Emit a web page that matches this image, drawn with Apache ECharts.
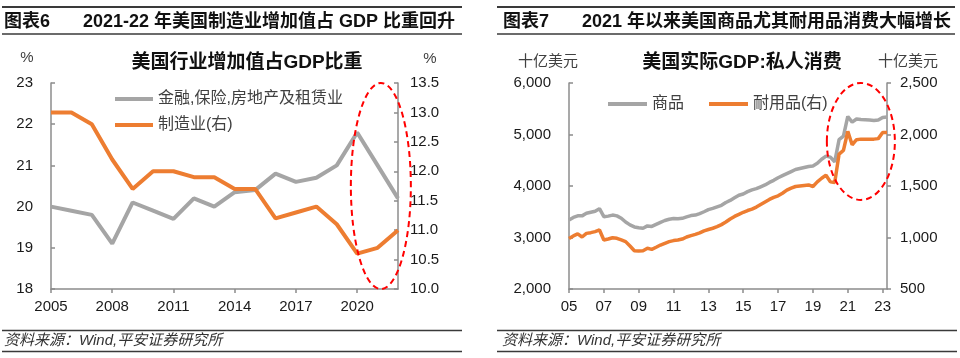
<!DOCTYPE html>
<html><head><meta charset="utf-8">
<script src="https://cdn.jsdelivr.net/npm/echarts@6/dist/echarts.min.js"></script>
<style>html,body{margin:0;padding:0;background:#fff}#c{width:960px;height:358px}</style>
</head><body><div id="c"></div>
<script>
// ---------- Data: left chart (share of GDP, %) ----------
const years = ['2005','2006','2007','2008','2009','2010','2011','2012','2013','2014','2015','2016','2017','2018','2019','2020','2021','2022'];
const financeShare = [20.0,19.9,19.8,19.1,20.1,19.9,19.7,20.2,20.0,20.35,20.4,20.8,20.6,20.7,21.0,21.8,21.0,20.2];
const manufShare = [13.0,13.0,12.8,12.2,11.7,12.0,12.0,11.9,11.9,11.7,11.7,11.2,11.3,11.4,11.1,10.6,10.7,11.0];

// ---------- Data: right chart (real PCE, billion USD) ----------
const qYears = ['2005','2006','2007','2008','2009','2010','2011','2012','2013','2014','2015','2016','2017','2018','2019','2020','2021','2022','2023'];
const lastQuarter = 'Q2';
const goods = [
 3340,3390,3420,3420, 3470,3490,3510,3560,
 3405,3415,3435,3420, 3375,3300,3245,3205,
 3190,3180,3225,3215, 3255,3295,3330,3355,
 3370,3362,3372,3400, 3425,3435,3465,3500,
 3540,3565,3595,3625, 3680,3720,3770,3820,
 3845,3890,3925,3950, 3985,4020,4070,4110,
 4160,4200,4240,4280, 4320,4340,4360,4380,
 4390,4440,4520,4580, 4560,4470,4900,4970,
 5350,5240,5300,5290, 5285,5280,5270,5280,
 5330,5340];
const durables = [
 990,1015,1035,1005, 1040,1047,1057,1073,
 976,985,998,992, 976,960,917,872,
 869,872,895,885, 905,927,944,960,
 970,975,985,1005, 1018,1030,1045,1065,
 1078,1090,1105,1125, 1150,1180,1205,1225,
 1245,1262,1275,1295, 1320,1345,1370,1390,
 1405,1430,1460,1480, 1495,1500,1505,1510,
 1495,1540,1575,1605, 1540,1535,1810,1845,
 2030,1900,1950,1955, 1955,1955,1955,1960,
 2020,2020];

const quarters = [];
qYears.forEach(y => ['Q1','Q2','Q3','Q4'].forEach(q => {
  if (y === '2023' && q > lastQuarter) return;
  quarters.push(y + q);
}));

// ---------- Text ----------
const header6 = ['图表6', '2021-22 年美国制造业增加值占 GDP 比重回升'];
const header7 = ['图表7', '2021 年以来美国商品尤其耐用品消费大幅增长'];
const title6 = '美国行业增加值占GDP比重';
const title7 = '美国实际GDP:私人消费';
const sourceText = '资料来源：Wind,平安证券研究所';
const nameFin = '金融,保险,房地产及租赁业', nameMan = '制造业(右)', nameGoods = '商品', nameDur = '耐用品(右)';

const FONT = '"Liberation Sans", "Noto Sans CJK SC", sans-serif';
const GRAY = '#A5A5A5', ORANGE = '#ED7D31', AXIS = '#8C8C8C', TXT = '#1a1a1a';
const fmtComma = v => String(v).replace(/\B(?=(\d{3})+(?!\d))/g, ',');

function txt(x, y, s, o) {
  return Object.assign({ type: 'text', x, y, silent: true, style: Object.assign({
    text: s, font: '15px ' + FONT, fill: TXT, textVerticalAlign: 'middle', verticalAlign: 'middle'
  }, o || {}) });
}
function hline(x1, x2, y, w) {
  return { type: 'line', silent: true, shape: { x1, y1: y, x2, y2: y }, style: { stroke: '#3a3a3a', lineWidth: w } };
}

const axisCommon = {
  axisLine: { show: true, lineStyle: { color: AXIS, width: 1.5 } },
  splitLine: { show: false },
};
const chart = echarts.init(document.getElementById('c'), null, { renderer: 'canvas' });
const option = {
  animation: false,
  textStyle: { fontFamily: FONT },
  grid: [
    { left: 51, top: 83, width: 347, height: 206 },
    { left: 569, top: 83, width: 318, height: 206 }
  ],
  legend: [
    { data: [nameFin, nameMan], orient: 'vertical', left: 110, top: 86, itemWidth: 38, itemHeight: 4, itemGap: 10, icon: 'rect',
      textStyle: { fontSize: 16, color: '#404040' } },
    { data: [nameGoods, nameDur], orient: 'horizontal', left: 603, top: 91, itemWidth: 39, itemHeight: 4, itemGap: 25, icon: 'rect',
      textStyle: { fontSize: 16, color: '#404040' } }
  ],
  xAxis: [
    Object.assign({}, axisCommon, { type: 'category', gridIndex: 0, data: years, boundaryGap: false,
      axisTick: { show: true, interval: 2, length: 4, lineStyle: { color: AXIS, width: 1.5 } },
      axisLabel: { interval: 2, fontSize: 15, color: TXT, margin: 10 } }),
    Object.assign({}, axisCommon, { type: 'category', gridIndex: 1, data: quarters, boundaryGap: false,
      axisTick: { show: true, interval: 7, length: 4, lineStyle: { color: AXIS, width: 1.5 } },
      axisLabel: { interval: 7, fontSize: 15, color: TXT, margin: 10, formatter: v => v.slice(2, 4) } })
  ],
  yAxis: [
    Object.assign({}, axisCommon, { type: 'value', gridIndex: 0, min: 18, max: 23, interval: 1,
      axisTick: { show: true, inside: true, length: 4, lineStyle: { color: AXIS, width: 1.5 } },
      axisLabel: { fontSize: 15, color: TXT, margin: 18 } }),
    Object.assign({}, axisCommon, { type: 'value', gridIndex: 0, position: 'right', min: 10, max: 13.5, interval: 0.5,
      axisTick: { show: true, inside: true, length: 4, lineStyle: { color: AXIS, width: 1.5 } },
      axisLabel: { fontSize: 15, color: TXT, margin: 12, formatter: v => v.toFixed(1) } }),
    Object.assign({}, axisCommon, { type: 'value', gridIndex: 1, min: 2000, max: 6000, interval: 1000,
      axisTick: { show: true, inside: true, length: 4, lineStyle: { color: AXIS, width: 1.5 } },
      axisLabel: { fontSize: 15, color: TXT, margin: 18, formatter: fmtComma } }),
    Object.assign({}, axisCommon, { type: 'value', gridIndex: 1, position: 'right', min: 500, max: 2500, interval: 500,
      axisTick: { show: true, inside: false, length: 4, lineStyle: { color: AXIS, width: 1.5 } },
      axisLabel: { fontSize: 15, color: TXT, margin: 13, formatter: fmtComma } })
  ],
  series: [
    { name: nameFin, type: 'line', xAxisIndex: 0, yAxisIndex: 0, data: financeShare, symbol: 'none',
      lineStyle: { color: GRAY, width: 4 }, itemStyle: { color: GRAY } },
    { name: nameMan, type: 'line', xAxisIndex: 0, yAxisIndex: 1, data: manufShare, symbol: 'none',
      lineStyle: { color: ORANGE, width: 4 }, itemStyle: { color: ORANGE } },
    { name: nameGoods, type: 'line', xAxisIndex: 1, yAxisIndex: 2, data: goods, symbol: 'none',
      lineStyle: { color: GRAY, width: 3.5 }, itemStyle: { color: GRAY } },
    { name: nameDur, type: 'line', xAxisIndex: 1, yAxisIndex: 3, data: durables, symbol: 'none',
      lineStyle: { color: ORANGE, width: 3.5 }, itemStyle: { color: ORANGE } }
  ],
  graphic: [
    hline(2, 462, 7, 2), hline(2, 462, 34, 1.5),
    hline(497, 955, 7, 2), hline(497, 955, 34, 1.5),
    txt(4, 22, header6[0], { font: 'bold 18px ' + FONT, fill: '#111' }),
    txt(83, 22, header6[1], { font: 'bold 18px ' + FONT, fill: '#111' }),
    txt(503, 22, header7[0], { font: 'bold 18px ' + FONT, fill: '#111' }),
    txt(582, 22, header7[1], { font: 'bold 18px ' + FONT, fill: '#111' }),
    txt(247, 63, title6, { font: 'bold 19px ' + FONT, fill: '#111', textAlign: 'center', align: 'center' }),
    txt(742, 63, title7, { font: 'bold 19px ' + FONT, fill: '#111', textAlign: 'center', align: 'center' }),
    txt(27, 58, '%', { textAlign: 'center', align: 'center', fill: '#404040' }),
    txt(430, 59, '%', { textAlign: 'center', align: 'center', fill: '#404040' }),
    txt(518, 62, '十亿美元', { fill: '#404040' }),
    txt(878, 62, '十亿美元', { fill: '#404040' }),
    hline(2, 462, 330.5, 1.5), hline(2, 462, 351.5, 1.5),
    hline(497, 957, 330.5, 1.5), hline(497, 957, 351.5, 1.5),
    txt(4, 341, sourceText, { font: 'italic 15px ' + FONT, fill: '#333' }),
    txt(502, 341, sourceText, { font: 'italic 15px ' + FONT, fill: '#333' })
  ]
};
chart.setOption(option);

// annotation ellipses placed via the axes
const c21 = chart.convertToPixel({ xAxisIndex: 0 }, '2021');
const c22 = chart.convertToPixel({ xAxisIndex: 0 }, '2022');
const yTop0 = chart.convertToPixel({ yAxisIndex: 0 }, 23);
const yBot0 = chart.convertToPixel({ yAxisIndex: 0 }, 18);
const rq = chart.convertToPixel({ xAxisIndex: 1 }, '2021Q4');
const yTop1 = chart.convertToPixel({ yAxisIndex: 2 }, 6000);
const yBot1 = chart.convertToPixel({ yAxisIndex: 2 }, 3730);
const dash = { fill: 'none', stroke: '#FF0000', lineWidth: 2, lineDash: [6, 4] };
chart.setOption({ graphic: [
  { id: 'e1', type: 'ellipse', z: 100, silent: true,
    shape: { cx: c21 + (c22 - c21) * 0.16, cy: (yTop0 + yBot0) / 2, rx: 30, ry: (yBot0 - yTop0) / 2 }, style: dash },
  { id: 'e2', type: 'ellipse', z: 100, silent: true,
    shape: { cx: rq, cy: (yTop1 + yBot1) / 2, rx: 34, ry: (yBot1 - yTop1) / 2 }, style: dash }
] });
</script>
</body></html>
